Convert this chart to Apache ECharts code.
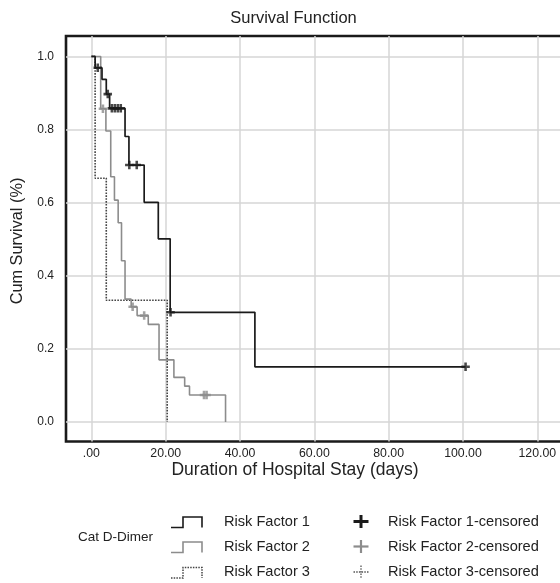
<!DOCTYPE html>
<html><head><meta charset="utf-8">
<script src="https://cdn.jsdelivr.net/npm/echarts@6/dist/echarts.min.js"></script>
<style>html,body{margin:0;padding:0;background:#fff}#c{width:560px;height:583px}</style>
</head><body><div id="c"></div>
<script>
// Risk Factor 1 (step points: time, survival after event)
const rf1Time = [0, 1.0, 2.85, 4.0, 4.9, 9.05, 10.1, 14.2, 18.0, 21.2, 44.0, 100.7];
const rf1Surv = [1.0, 0.969, 0.9375, 0.897, 0.858, 0.781, 0.703, 0.601, 0.501, 0.300, 0.151, 0.151];
const rf1CensTime = [1.7, 4.4, 5.5, 6.3, 7.1, 7.9, 10.2, 12.2, 21.3, 100.7];
const rf1CensSurv = [0.969, 0.897, 0.858, 0.858, 0.858, 0.858, 0.703, 0.703, 0.300, 0.151];
// Risk Factor 2
const rf2Time = [0, 2.5, 3.9, 5.2, 6.2, 7.2, 8.1, 9.05, 10.7, 12.3, 15.3, 18.2, 22.2, 25.1, 26.4, 36.1];
const rf2Surv = [1.0, 0.857, 0.796, 0.671, 0.607, 0.545, 0.441, 0.336, 0.315, 0.291, 0.267, 0.170, 0.122, 0.098, 0.074, 0.0];
const rf2CensTime = [3.1, 11.1, 14.2, 30.3, 31.0];
const rf2CensSurv = [0.857, 0.315, 0.291, 0.074, 0.074];
// Risk Factor 3
const rf3Time = [0, 1.0, 4.0, 20.4];
const rf3Surv = [1.0, 0.667, 0.333, 0.0];
// Ticks
const xTicks = [0, 20, 40, 60, 80, 100, 120];
const yTicks = [0, 0.2, 0.4, 0.6, 0.8, 1.0];
const seriesNames = ['Risk Factor 1', 'Risk Factor 2', 'Risk Factor 3'];
const censNames = ['Risk Factor 1-censored', 'Risk Factor 2-censored', 'Risk Factor 3-censored'];

const zip = (a, b) => a.map((v, i) => [v, b[i]]);
const FONT = '"Liberation Sans", Arial, sans-serif';
const plusPath = 'path://M2.8,0 L5.2,0 L5.2,2.8 L8,2.8 L8,5.2 L5.2,5.2 L5.2,8 L2.8,8 L2.8,5.2 L0,5.2 L0,2.8 L2.8,2.8 Z';

const chart = echarts.init(document.getElementById('c'), null, {renderer: 'canvas'});

const legendRows = [521.5, 546.5, 572];
const legendGraphics = [];
legendGraphics.push({type: 'text', x: 78, y: 537, style: {text: 'Cat D-Dimer', font: '13.5px ' + FONT, fill: '#222', align: 'left', verticalAlign: 'middle', textAlign: 'left', textVerticalAlign: 'middle'}});
const iconStyles = [
  {stroke: '#1a1a1a', lineWidth: 1.6, lineDash: null},
  {stroke: '#8c8c8c', lineWidth: 1.6, lineDash: null},
  {stroke: '#444', lineWidth: 1.5, lineDash: [1.5, 1.2]}
];
const plusStyles = [
  {stroke: '#1a1a1a', lineWidth: 3, lineDash: null},
  {stroke: '#8c8c8c', lineWidth: 2.2, lineDash: null},
  {stroke: '#555', lineWidth: 1.3, lineDash: [1.5, 1.2]}
];
legendRows.forEach((y, i) => {
  legendGraphics.push({type: 'polyline', shape: {points: [[171, y + 6], [183, y + 6], [183, y - 4.5], [202, y - 4.5], [202, y + 6]]}, style: Object.assign({fill: null}, iconStyles[i])});
  legendGraphics.push({type: 'text', x: 224, y: y, style: {text: seriesNames[i], font: '14.6px ' + FONT, fill: '#222', align: 'left', verticalAlign: 'middle', textAlign: 'left', textVerticalAlign: 'middle'}});
  legendGraphics.push({type: 'line', shape: {x1: 353.5, y1: y, x2: 368.5, y2: y}, style: Object.assign({}, plusStyles[i])});
  legendGraphics.push({type: 'line', shape: {x1: 361, y1: y - 6.5, x2: 361, y2: y + 6.5}, style: Object.assign({}, plusStyles[i])});
  legendGraphics.push({type: 'text', x: 388, y: y, style: {text: censNames[i], font: '14.6px ' + FONT, fill: '#222', align: 'left', verticalAlign: 'middle', textAlign: 'left', textVerticalAlign: 'middle'}});
});

const option = {
  animation: false,
  backgroundColor: '#fff',
  grid: {left: 66, top: 36, right: -7, bottom: 141.5, show: true, borderColor: '#1a1a1a', borderWidth: 2.6, backgroundColor: 'transparent', containLabel: false, outerBoundsMode: 'none'},
  xAxis: {
    type: 'value', min: -6.84, max: 128,
    axisLine: {show: false},
    axisTick: {show: false, customValues: xTicks},
    splitLine: {show: true, lineStyle: {color: '#d6d6d6', width: 1.5}},
    axisLabel: {customValues: xTicks, margin: 6, fontSize: 12.3, color: '#222', fontFamily: FONT,
      formatter: v => (Math.abs(v) < 1e-9 ? '.00' : v.toFixed(2))}
  },
  yAxis: {
    type: 'value', min: -0.0534, max: 1.056,
    axisLine: {show: false},
    axisTick: {show: false, customValues: yTicks},
    splitLine: {show: true, lineStyle: {color: '#d6d6d6', width: 1.5}},
    axisLabel: {customValues: yTicks, margin: 12, fontSize: 12, color: '#222', fontFamily: FONT,
      formatter: v => v.toFixed(1)}
  },
  graphic: [
    {type: 'text', x: 293.5, y: 18, style: {text: 'Survival Function', font: '16.5px ' + FONT, fill: '#222', align: 'center', verticalAlign: 'middle', textAlign: 'center', textVerticalAlign: 'middle'}},
    {type: 'text', x: 295, y: 470, style: {text: 'Duration of Hospital Stay (days)', font: '17.5px ' + FONT, fill: '#222', align: 'center', verticalAlign: 'middle', textAlign: 'center', textVerticalAlign: 'middle'}},
    {type: 'text', x: 18, y: 241, rotation: Math.PI / 2, style: {text: 'Cum Survival (%)', font: '16.3px ' + FONT, fill: '#222', align: 'center', verticalAlign: 'middle', textAlign: 'center', textVerticalAlign: 'middle'}}
  ].concat(legendGraphics),
  series: [
    {name: seriesNames[2], type: 'line', step: 'end', data: zip(rf3Time, rf3Surv), showSymbol: false, z: 2,
      lineStyle: {color: '#444', width: 1.6, type: [1.6, 1.3]}},
    {name: seriesNames[1], type: 'line', step: 'end', data: zip(rf2Time, rf2Surv), showSymbol: false, z: 3,
      lineStyle: {color: '#8c8c8c', width: 1.6}},
    {name: seriesNames[0], type: 'line', step: 'end', data: zip(rf1Time, rf1Surv), showSymbol: false, z: 4,
      lineStyle: {color: '#1a1a1a', width: 1.7}},
    {name: censNames[1], type: 'scatter', data: zip(rf2CensTime, rf2CensSurv), symbol: plusPath, symbolSize: 8.5, z: 5,
      itemStyle: {color: '#8c8c8c'}},
    {name: censNames[0], type: 'scatter', data: zip(rf1CensTime, rf1CensSurv), symbol: plusPath, symbolSize: 8.5, z: 6,
      itemStyle: {color: '#1a1a1a'}}
  ]
};
chart.setOption(option);
</script>
</body></html>
